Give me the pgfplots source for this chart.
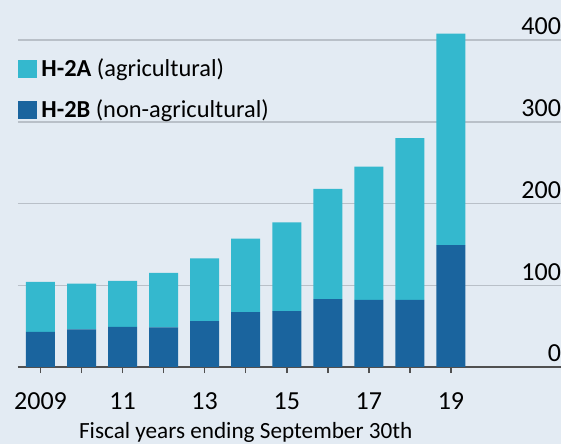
\documentclass[border=0pt]{standalone}
\usepackage{pgfplots}
\pgfplotsset{compat=1.18}
\usepackage{fontspec}
\setmainfont{Carlito}
\definecolor{bgc}{RGB}{227,235,243}
\definecolor{lightbar}{RGB}{52,184,206}
\definecolor{darkbar}{RGB}{26,100,158}
\definecolor{gridc}{RGB}{185,192,200}
\definecolor{axc}{RGB}{80,80,80}

\pgfplotstableread{
year dark light
2009 43   61
2010 46   56
2011 49   56.5
2012 48.5 66.5
2013 56   77
2014 67   90
2015 68.5 108.5
2016 83   135
2017 82   163
2018 82   198
2019 149  259
}\visas

\begin{document}
\begin{tikzpicture}
\fill[bgc] (0,0) rectangle (280.5pt,222pt);
\begin{axis}[
  at={(9pt,38.5pt)}, anchor=south west,
  scale only axis, width=271.5pt, height=183.5pt,
  xmin=2008.452, xmax=2021.68, ymin=0, ymax=449,
  ybar stacked, bar width=14.5pt,
  axis x line*=bottom, axis y line*=right,
  x axis line style={axc, line width=1pt},
  y axis line style={draw=none},
  xtick={2009,...,2019},
  xticklabels={2009,,11,,13,,15,,17,,19},
  xtick pos=bottom, tick align=outside,
  x tick style={axc, line width=0.75pt}, major tick length=3pt,
  ytick={0,100,200,300,400},
  y tick style={draw=none},
  ymajorgrids, grid style={gridc, line width=0.75pt},
  font=\fontsize{13}{15}\selectfont,
  /pgf/number format/assume math mode=true,
  xticklabel style={anchor=base, inner sep=0pt, yshift=-18pt},
  yticklabel style={anchor=base east, inner sep=0pt, xshift=-2.8pt, yshift=2.6pt},
  yticklabel pos=right,
  xlabel={Fiscal years ending September 30th},
  xlabel style={at={(axis description cs:0.4194,0)}, anchor=base, yshift=-35.5pt,
    inner sep=0pt, font=\fontsize{11.6}{14}\selectfont},
  legend style={at={(0,1)}, anchor=north west, xshift=0pt, yshift=-27pt,
    draw=none, fill=none, inner sep=0pt, row sep=6pt,
    font=\fontsize{12.2}{14}\selectfont},
  legend cell align=left, reverse legend,
  legend image code/.code={\fill[#1] (0pt,-4.5pt) rectangle (9.5pt,4.5pt);},
]
\addplot[fill=darkbar, draw=none] table[x=year, y=dark] {\visas};
\addlegendentry{\textbf{H-2B} (non-agricultural)}
\addplot[fill=lightbar, draw=none] table[x=year, y=light] {\visas};
\addlegendentry{\textbf{H-2A} (agricultural)}
\end{axis}
\pgfresetboundingbox
\path (0,0) rectangle (280.5pt,222pt);
\end{tikzpicture}
\end{document}
